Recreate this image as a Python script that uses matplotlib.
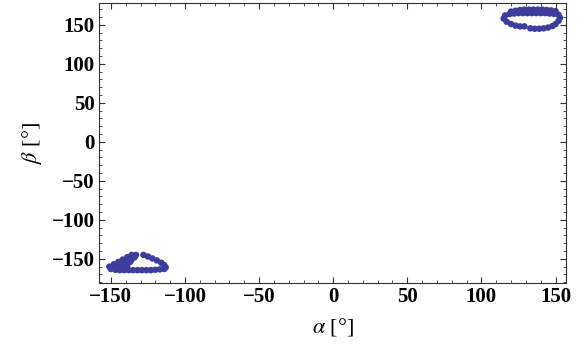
import matplotlib.pyplot as plt
from matplotlib.ticker import MultipleLocator

plt.rcParams['font.family'] = ['Liberation Serif', 'DejaVu Serif']
plt.rcParams['mathtext.fontset'] = 'stix'

# upper-right cluster (alpha, beta in degrees)
alpha_up = [120, 123, 126, 129, 132, 135, 138, 141, 144, 147, 150,
            116, 119, 122, 125, 128, 131, 134, 137, 140, 143, 146, 149, 152,
            115, 117, 120,
            153, 152, 150,
            123, 126, 129,
            133, 136, 139, 142, 145, 148]
beta_up = [167, 168, 169, 169.5, 169.5, 169.5, 169.5, 169.5, 169, 168.5, 167.5,
           162, 164, 164.5, 165, 165, 165, 165, 165, 165, 165, 164.5, 164, 163,
           158, 154, 151,
           159, 155, 151,
           149, 148, 148,
           145.5, 145, 145, 145.5, 146.5, 148.5]

# lower-left cluster
alpha_low = [-150, -147, -144, -141, -138, -135, -132, -129, -126, -123, -120, -117, -114,
             -151, -148, -145, -142, -139,
             -148, -145, -142, -140,
             -145, -142, -139, -137,
             -142, -139, -136,
             -139, -136, -134,
             -136, -133,
             -128, -125, -122, -119, -116, -114, -113]
beta_low = [-163, -164, -164.5, -164.5, -164.5, -164.5, -164.5, -164.5, -164.5, -164.5, -164, -163.5, -163,
            -160, -160, -160, -160, -160,
            -157, -157, -157, -157,
            -154, -154, -154, -154,
            -151, -151, -151,
            -148, -148, -148,
            -145, -145,
            -145, -147, -149.5, -152, -155, -158, -161]

dot_color = '#3d3d9e'

fig = plt.figure(figsize=(5.8, 3.52), dpi=100)
ax = fig.add_axes([0.1707, 0.196, 0.805, 0.7955])

ax.scatter(alpha_up, beta_up, s=22, color=dot_color, edgecolors='none')
ax.scatter(alpha_low, beta_low, s=22, color=dot_color, edgecolors='none')

ax.set_xlim(-158, 157)
ax.set_ylim(-181, 178)
ax.xaxis.set_major_locator(MultipleLocator(50))
ax.xaxis.set_minor_locator(MultipleLocator(10))
ax.yaxis.set_major_locator(MultipleLocator(50))
ax.yaxis.set_minor_locator(MultipleLocator(10))
ax.tick_params(which='both', direction='in', top=True, right=True, color='#333333')
ax.tick_params(which='major', length=4.5, width=0.8, pad=3)
ax.tick_params(which='minor', length=2.5, width=0.6)
for s in ax.spines.values():
    s.set_linewidth(0.8)
    s.set_color('#333333')

xt = [-150, -100, -50, 0, 50, 100, 150]
ax.set_xticks(xt)
ax.set_xticklabels(['\u2212%d' % -v if v < 0 else '%d' % v for v in xt],
                   fontsize=15, fontweight='bold')
ax.set_yticks(xt)
ax.set_yticklabels(['\u2212%d' % -v if v < 0 else '%d' % v for v in xt],
                   fontsize=15, fontweight='bold')

ax.set_xlabel(r'$\alpha$ [°]', fontsize=16, labelpad=6)
ax.set_ylabel(r'$\beta$ [°]', fontsize=16, labelpad=6)

fig.savefig('out.png', dpi=100)
